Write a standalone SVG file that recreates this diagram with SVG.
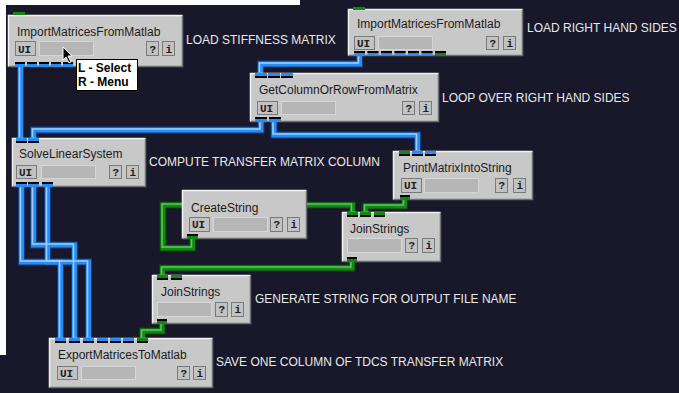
<svg xmlns="http://www.w3.org/2000/svg" xmlns:xlink="http://www.w3.org/1999/xlink" width="679" height="393" viewBox="0 0 679 393">
<style>
.bg{fill:#18182a}
.body{fill:#c8c8c8}
.hi{fill:none;stroke:#f2f2f2;stroke-width:1.5}
.lo{fill:none;stroke:#707070;stroke-width:1.5}
.title{font-family:"Liberation Sans",Arial,sans-serif;font-size:12px;fill:#1c1c1c}
.lbl{font-family:"Liberation Sans",Arial,sans-serif;font-size:12px;fill:#e8e8e8}
.btn{fill:#c2c2c2;stroke:#7a7a7a;stroke-width:1}
.bt{font-family:"Liberation Mono","DejaVu Sans Mono",monospace;font-size:11px;font-weight:bold;fill:#202020}
.fld{fill:#b6b6b6;stroke:#d6d6d6;stroke-width:1}
.pB{fill:#2a8cf0}
.pG{fill:#0f8a0f}
.pK{fill:#000}
.w0{fill:none;stroke:#0b3c86;stroke-width:7}
.w1{fill:none;stroke:#2a8cf0;stroke-width:5}
.w2{fill:none;stroke:#9ad0ff;stroke-width:1.5}
.g0{fill:none;stroke:#0a400a;stroke-width:7}
.g1{fill:none;stroke:#118a11;stroke-width:5}
.g2{fill:none;stroke:#62c462;stroke-width:1.5}
.tip{font-family:"Liberation Sans",Arial,sans-serif;font-size:12px;font-weight:bold;fill:#000}
</style>
<defs>
<path id="c1" d="M20.5,67 V138"/>
<path id="c2" d="M261,120 V130 H33.5 V138"/>
<path id="c3" d="M274,120 V135 H417.5 V151"/>
<path id="c4" d="M359.5,56 V64 H260.5 V73"/>
<path id="c5" d="M21.5,187 V262 H60.5 V338"/>
<path id="c6" d="M33.5,187 V245 H74.5 V338"/>
<path id="c7" d="M47.5,187 V262 H88.5 V338"/>
<path id="k1" d="M404.5,200 V206 H365.5 V212"/>
<path id="k2" d="M192.5,239 V248 H163 V205 H352.5 V212"/>
<path id="k3" d="M352,262 V268 H162.5 V275"/>
<path id="k4" d="M162,324 V331 H142.5 V338"/>
</defs>
<rect x="0" y="0" width="679" height="393" class="bg"/>
<rect x="0" y="0" width="300" height="5" fill="#ffffff"/>
<rect x="0" y="0" width="6" height="355" fill="#ffffff"/>

<g id="connectors">
<g class="w0"><use xlink:href="#c1"/><use xlink:href="#c2"/><use xlink:href="#c3"/><use xlink:href="#c4"/><use xlink:href="#c5"/><use xlink:href="#c6"/><use xlink:href="#c7"/></g>
<g class="w1"><use xlink:href="#c1"/><use xlink:href="#c2"/><use xlink:href="#c3"/><use xlink:href="#c4"/><use xlink:href="#c5"/><use xlink:href="#c6"/><use xlink:href="#c7"/></g>
<g class="w2" transform="translate(-1,-1)"><use xlink:href="#c1"/><use xlink:href="#c2"/><use xlink:href="#c3"/><use xlink:href="#c4"/><use xlink:href="#c5"/><use xlink:href="#c6"/><use xlink:href="#c7"/></g>
<g class="g0"><use xlink:href="#k1"/><use xlink:href="#k2"/><use xlink:href="#k3"/><use xlink:href="#k4"/></g>
<g class="g1"><use xlink:href="#k1"/><use xlink:href="#k2"/><use xlink:href="#k3"/><use xlink:href="#k4"/></g>
<g class="g2" transform="translate(-1,-1)"><use xlink:href="#k1"/><use xlink:href="#k2"/><use xlink:href="#k3"/><use xlink:href="#k4"/></g>
</g>

<!-- Node 1 -->
<g id="n1" transform="translate(8,15)">
<rect class="body" width="175" height="52"/>
<polyline class="hi" points="0.5,51.5 0.5,0.5 174.5,0.5"/>
<polyline class="lo" points="0.5,51.5 174.5,51.5 174.5,0.5"/>
<rect class="pG" x="5" y="-3" width="12" height="3"/>
<text class="title" x="9" y="21">ImportMatricesFromMatlab</text>
<rect class="btn" x="7.5" y="26.5" width="20" height="14"/><text class="bt" x="10" y="37.5">UI</text>
<rect class="fld" x="31.5" y="26.5" width="54" height="14"/>
<rect class="btn" x="138.5" y="26.5" width="12" height="14"/><text class="bt" x="141.5" y="37.5">?</text>
<rect class="btn" x="154.5" y="26.5" width="12" height="14"/><text class="bt" x="157.5" y="37.5">i</text>
<g><rect class="pB" x="7" y="47" width="10" height="5"/><rect class="pB" x="19" y="47" width="10" height="5"/><rect class="pB" x="31" y="47" width="10" height="5"/><rect class="pB" x="43" y="47" width="10" height="5"/><rect class="pB" x="55" y="47" width="10" height="5"/>
<rect class="pK" x="7" y="47" width="10" height="2"/><rect class="pK" x="19" y="47" width="10" height="2"/><rect class="pK" x="31" y="47" width="10" height="2"/><rect class="pK" x="43" y="47" width="10" height="2"/><rect class="pK" x="55" y="47" width="10" height="2"/></g>
</g>
<text class="lbl" x="186" y="44">LOAD STIFFNESS MATRIX</text>

<!-- Node 2 -->
<g id="n2" transform="translate(348,9)">
<rect class="body" width="175" height="47"/>
<polyline class="hi" points="0.5,46.5 0.5,0.5 174.5,0.5"/>
<polyline class="lo" points="0.5,46.5 174.5,46.5 174.5,0.5"/>
<rect class="pG" x="5" y="-2" width="12" height="3"/>
<text class="title" x="9" y="19">ImportMatricesFromMatlab</text>
<rect class="btn" x="6.5" y="27.5" width="20" height="13"/><text class="bt" x="9" y="37.5">UI</text>
<rect class="fld" x="30.5" y="27.5" width="54" height="13"/>
<rect class="btn" x="138.5" y="27.5" width="12" height="13"/><text class="bt" x="141.5" y="37.5">?</text>
<rect class="btn" x="155.5" y="27.5" width="12" height="13"/><text class="bt" x="158.5" y="37.5">i</text>
<g><rect class="pB" x="6" y="42" width="11" height="5"/><rect class="pB" x="19.5" y="42" width="11" height="5"/><rect class="pB" x="33" y="42" width="11" height="5"/><rect class="pB" x="46.5" y="42" width="11" height="5"/><rect class="pB" x="60" y="42" width="11" height="5"/><rect class="pB" x="73.5" y="42" width="11" height="5"/><rect class="pG" x="87" y="42" width="11" height="5"/>
<rect class="pK" x="6" y="42" width="11" height="2"/><rect class="pK" x="19.5" y="42" width="11" height="2"/><rect class="pK" x="33" y="42" width="11" height="2"/><rect class="pK" x="46.5" y="42" width="11" height="2"/><rect class="pK" x="60" y="42" width="11" height="2"/><rect class="pK" x="73.5" y="42" width="11" height="2"/><rect class="pK" x="87" y="42" width="11" height="2"/></g>
</g>
<text class="lbl" x="527" y="32">LOAD RIGHT HAND SIDES</text>

<!-- Node 3 -->
<g id="n3" transform="translate(250,73)">
<rect class="body" width="189" height="49"/>
<polyline class="hi" points="0.5,48.5 0.5,0.5 188.5,0.5"/>
<polyline class="lo" points="0.5,48.5 188.5,48.5 188.5,0.5"/>
<g><rect class="pB" x="5" y="0" width="12" height="5"/><rect class="pB" x="18" y="0" width="12" height="5"/><rect class="pB" x="31" y="0" width="12" height="5"/>
<rect class="pK" x="5" y="3" width="12" height="2"/><rect class="pK" x="18" y="3" width="12" height="2"/><rect class="pK" x="31" y="3" width="12" height="2"/></g>
<text class="title" x="9" y="21">GetColumnOrRowFromMatrix</text>
<rect class="btn" x="7.5" y="28.5" width="20" height="13"/><text class="bt" x="10" y="38.5">UI</text>
<rect class="fld" x="31.5" y="28.5" width="54" height="13"/>
<rect class="btn" x="152.5" y="28.5" width="12" height="13"/><text class="bt" x="155.5" y="38.5">?</text>
<rect class="btn" x="169.5" y="28.5" width="12" height="13"/><text class="bt" x="172.5" y="38.5">i</text>
<g><rect class="pB" x="5" y="44" width="12" height="5"/><rect class="pB" x="19" y="44" width="12" height="5"/>
<rect class="pK" x="5" y="44" width="12" height="2"/><rect class="pK" x="19" y="44" width="12" height="2"/></g>
</g>
<text class="lbl" x="442" y="102">LOOP OVER RIGHT HAND SIDES</text>

<!-- Node 4 -->
<g id="n4" transform="translate(12,138)">
<rect class="body" width="134" height="49"/>
<polyline class="hi" points="0.5,48.5 0.5,0.5 133.5,0.5"/>
<polyline class="lo" points="0.5,48.5 133.5,48.5 133.5,0.5"/>
<g><rect class="pB" x="4" y="0" width="11" height="5"/><rect class="pB" x="16" y="0" width="11" height="5"/>
<rect class="pK" x="4" y="3" width="11" height="2"/><rect class="pK" x="16" y="3" width="11" height="2"/></g>
<text class="title" x="7" y="20">SolveLinearSystem</text>
<rect class="btn" x="4.5" y="27.5" width="20" height="13"/><text class="bt" x="7" y="37.5">UI</text>
<rect class="fld" x="29.5" y="27.5" width="54" height="13"/>
<rect class="btn" x="97.5" y="27.5" width="12" height="13"/><text class="bt" x="100.5" y="37.5">?</text>
<rect class="btn" x="114.5" y="27.5" width="12" height="13"/><text class="bt" x="117.5" y="37.5">i</text>
<g><rect class="pB" x="4" y="44" width="11" height="5"/><rect class="pB" x="16" y="44" width="11" height="5"/><rect class="pB" x="30" y="44" width="11" height="5"/>
<rect class="pK" x="4" y="44" width="11" height="2"/><rect class="pK" x="16" y="44" width="11" height="2"/><rect class="pK" x="30" y="44" width="11" height="2"/></g>
</g>
<text class="lbl" x="149" y="166">COMPUTE TRANSFER MATRIX COLUMN</text>

<!-- Node 5 -->
<g id="n5" transform="translate(393,151)">
<rect class="body" width="140" height="49"/>
<polyline class="hi" points="0.5,48.5 0.5,0.5 139.5,0.5"/>
<polyline class="lo" points="0.5,48.5 139.5,48.5 139.5,0.5"/>
<g><rect class="pG" x="6" y="0" width="11" height="5"/><rect class="pB" x="19" y="0" width="11" height="5"/><rect class="pB" x="32" y="0" width="11" height="5"/>
<rect class="pK" x="6" y="3" width="11" height="2"/><rect class="pK" x="19" y="3" width="11" height="2"/><rect class="pK" x="32" y="3" width="11" height="2"/></g>
<text class="title" x="10" y="21">PrintMatrixIntoString</text>
<rect class="btn" x="8.5" y="27.5" width="20" height="14"/><text class="bt" x="11" y="38">UI</text>
<rect class="fld" x="31.5" y="27.5" width="54" height="14"/>
<rect class="btn" x="102.5" y="27.5" width="12" height="14"/><text class="bt" x="105.5" y="38">?</text>
<rect class="btn" x="120.5" y="27.5" width="12" height="14"/><text class="bt" x="123.5" y="38">i</text>
<rect class="pG" x="7" y="44" width="10" height="5"/><rect class="pK" x="7" y="44" width="10" height="2"/>
</g>

<!-- Node 6 -->
<g id="n6" transform="translate(182,190)">
<rect class="body" width="125" height="49"/>
<polyline class="hi" points="0.5,48.5 0.5,0.5 124.5,0.5"/>
<polyline class="lo" points="0.5,48.5 124.5,48.5 124.5,0.5"/>
<text class="title" x="9" y="22">CreateString</text>
<rect class="btn" x="7.5" y="27.5" width="20" height="14"/><text class="bt" x="10" y="38">UI</text>
<rect class="fld" x="31.5" y="27.5" width="54" height="14"/>
<rect class="btn" x="88.5" y="27.5" width="12" height="14"/><text class="bt" x="91.5" y="38">?</text>
<rect class="btn" x="105.5" y="27.5" width="12" height="14"/><text class="bt" x="108.5" y="38">i</text>
<rect class="pG" x="5" y="44" width="11" height="5"/><rect class="pK" x="5" y="44" width="11" height="2"/>
</g>

<!-- Node 7 -->
<g id="n7" transform="translate(342,212)">
<rect class="body" width="99" height="50"/>
<polyline class="hi" points="0.5,49.5 0.5,0.5 98.5,0.5"/>
<polyline class="lo" points="0.5,49.5 98.5,49.5 98.5,0.5"/>
<g><rect class="pG" x="5" y="0" width="11" height="5"/><rect class="pG" x="18" y="0" width="11" height="5"/><rect class="pG" x="32" y="0" width="11" height="5"/>
<rect class="pK" x="5" y="3" width="11" height="2"/><rect class="pK" x="18" y="3" width="11" height="2"/><rect class="pK" x="32" y="3" width="11" height="2"/></g>
<text class="title" x="8" y="21">JoinStrings</text>
<rect class="fld" x="5.5" y="26.5" width="54" height="14"/>
<rect class="btn" x="63.5" y="26.5" width="12" height="14"/><text class="bt" x="66.5" y="37">?</text>
<rect class="btn" x="80.5" y="26.5" width="12" height="14"/><text class="bt" x="83.5" y="37">i</text>
<rect class="pG" x="5" y="45" width="10" height="5"/><rect class="pK" x="5" y="45" width="10" height="2"/>
</g>

<!-- Node 8 -->
<g id="n8" transform="translate(152,275)">
<rect class="body" width="99" height="49"/>
<polyline class="hi" points="0.5,48.5 0.5,0.5 98.5,0.5"/>
<polyline class="lo" points="0.5,48.5 98.5,48.5 98.5,0.5"/>
<g><rect class="pG" x="5" y="0" width="11" height="5"/><rect class="pG" x="19" y="0" width="11" height="5"/>
<rect class="pK" x="5" y="3" width="11" height="2"/><rect class="pK" x="19" y="3" width="11" height="2"/></g>
<text class="title" x="9" y="21">JoinStrings</text>
<rect class="fld" x="5.5" y="27.5" width="54" height="14"/>
<rect class="btn" x="63.5" y="27.5" width="12" height="14"/><text class="bt" x="66.5" y="38">?</text>
<rect class="btn" x="79.5" y="27.5" width="12" height="14"/><text class="bt" x="82.5" y="38">i</text>
<rect class="pG" x="5" y="44" width="10" height="5"/><rect class="pK" x="5" y="44" width="10" height="2"/>
</g>
<text class="lbl" x="255" y="303">GENERATE STRING FOR OUTPUT FILE NAME</text>

<!-- Node 9 -->
<g id="n9" transform="translate(49,338)">
<rect class="body" width="164" height="50"/>
<polyline class="hi" points="0.5,49.5 0.5,0.5 163.5,0.5"/>
<polyline class="lo" points="0.5,49.5 163.5,49.5 163.5,0.5"/>
<g><rect class="pB" x="6" y="0" width="11" height="5"/><rect class="pB" x="20" y="0" width="11" height="5"/><rect class="pB" x="34" y="0" width="11" height="5"/><rect class="pB" x="48" y="0" width="11" height="5"/><rect class="pB" x="61" y="0" width="11" height="5"/><rect class="pB" x="74" y="0" width="11" height="5"/><rect class="pG" x="88" y="0" width="11" height="5"/>
<rect class="pK" x="6" y="3" width="11" height="2"/><rect class="pK" x="20" y="3" width="11" height="2"/><rect class="pK" x="34" y="3" width="11" height="2"/><rect class="pK" x="48" y="3" width="11" height="2"/><rect class="pK" x="61" y="3" width="11" height="2"/><rect class="pK" x="74" y="3" width="11" height="2"/><rect class="pK" x="88" y="3" width="11" height="2"/></g>
<text class="title" x="9" y="21">ExportMatricesToMatlab</text>
<rect class="btn" x="8.5" y="28.5" width="20" height="13"/><text class="bt" x="11" y="38.5">UI</text>
<rect class="fld" x="32.5" y="28.5" width="54" height="13"/>
<rect class="btn" x="128.5" y="28.5" width="12" height="13"/><text class="bt" x="131.5" y="38.5">?</text>
<rect class="btn" x="144.5" y="28.5" width="12" height="13"/><text class="bt" x="147.5" y="38.5">i</text>
</g>
<text class="lbl" x="216" y="366">SAVE ONE COLUMN OF TDCS TRANSFER MATRIX</text>

<!-- cursor and tooltip -->
<g id="tooltip">
<rect x="76.5" y="59.5" width="61" height="31" fill="#ffffff" stroke="#000" stroke-width="1"/>
<text class="tip" x="78" y="72">L - Select</text>
<text class="tip" x="78" y="86">R - Menu</text>
</g>
<polygon points="63,47 63,60 66,57 69,63 71,62 68,56 72,56" fill="#000" stroke="#fff" stroke-width="1"/>
</svg>
